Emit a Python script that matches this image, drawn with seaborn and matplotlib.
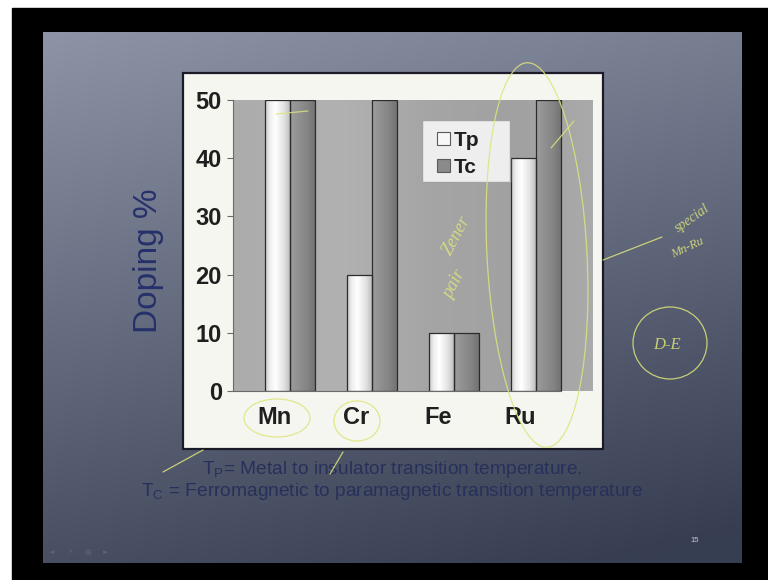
import numpy as np
import pandas as pd
import matplotlib
matplotlib.use("Agg")
import matplotlib.pyplot as plt
import seaborn as sns
from matplotlib.patches import Rectangle, Ellipse, Patch
from matplotlib.colors import LinearSegmentedColormap, to_rgb

# ---- data -------------------------------------------------------------
elements = ["Mn", "Cr", "Fe", "Ru"]
tp_values = [50, 20, 10, 40]
tc_values = [50, 50, 10, 50]
series_names = ["Tp", "Tc"]
y_ticks = [0, 10, 20, 30, 40, 50]
y_label = "Doping %"
note_p = r"$\mathregular{T_P}$= Metal to insulator transition temperature."
note_c = r"$\mathregular{T_C}$ = Ferromagnetic to paramagnetic transition temperature"
slide_number = "15"

sns.set_theme(style="white")
plt.rcParams["font.family"] = ["Liberation Sans", "DejaVu Sans"]

W, H = 768, 580
fig = plt.figure(figsize=(W / 100, H / 100), dpi=100, facecolor="white")


def px_rect(x0, y0, x1, y1):
    return [x0 / W, 1 - y1 / H, (x1 - x0) / W, (y1 - y0) / H]


# ---- slide background -------------------------------------------------
bg = fig.add_axes([0, 0, 1, 1], zorder=0)
bg.add_patch(Rectangle((12, 8), W, H, color="black", zorder=0))
yy, xx = np.mgrid[0:1:200j, 0:1:200j]
t = np.clip(0.8 * yy + 0.25 * xx, 0, 1)
c_top = np.array(to_rgb("#8e94a6"))
c_bot = np.array(to_rgb("#373e52"))
slide = c_top[None, None, :] * (1 - t[..., None]) + c_bot[None, None, :] * t[..., None]
bg.imshow(slide, extent=(43, 742, 563, 32), aspect="auto", zorder=1,
          interpolation="bilinear")
bg.add_patch(Rectangle((183, 73), 420, 376, facecolor="#f6f6f1",
                       edgecolor="#1a1b26", lw=1.6, zorder=2))
bg.set_xlim(0, W)
bg.set_ylim(H, 0)
bg.axis("off")

bg.text(148, 261, y_label, rotation=90, ha="center", va="center",
        fontsize=24, color="#26306a", zorder=3)
bg.text(392, 469, note_p, ha="center", va="center", fontsize=13.8,
        color="#27305a", zorder=3)
bg.text(392, 492, note_c, ha="center", va="center", fontsize=13.8,
        color="#27305a", zorder=3)
bg.text(695, 540, slide_number, ha="center", va="center", fontsize=5.5,
        color="#c6cad3", zorder=3)
for x, g in zip([52, 70, 88, 106], ["◄", "↗", "▤", "►"]):
    bg.text(x, 552, g, ha="center", va="center", fontsize=5,
            color="#5d6476", family="DejaVu Sans", zorder=3)

# ---- bar chart ----------------------------------------------------------
ax = fig.add_axes(px_rect(233, 100, 593, 391), zorder=2)
df = pd.DataFrame({
    "element": elements * 2,
    "series": [series_names[0]] * len(elements) + [series_names[1]] * len(elements),
    "value": tp_values + tc_values,
})
sns.barplot(data=df, x="element", y="value", hue="series", order=elements,
            hue_order=series_names, palette=["#f4f4f4", "#8a8a8a"],
            width=0.61, edgecolor="#2c2c2c", linewidth=0.9, legend=False,
            ax=ax)

xlim = (-0.695, 3.695)
ylim = (0, 50)

# back wall shading
wall = LinearSegmentedColormap.from_list(
    "wall", [(0, "#acacac"), (0.3, "#b1b1b1"), (0.55, "#a5a5a5"),
             (0.8, "#a1a1a1"), (1, "#aaaaaa")])
ax.imshow(np.linspace(0, 1, 256)[None, :], cmap=wall, aspect="auto",
          extent=(xlim[0], xlim[1], ylim[0], ylim[1]), zorder=0)

# cylinder-like shading across each column
light = LinearSegmentedColormap.from_list(
    "light", [(0, "#c6c6c6"), (0.18, "#efefef"), (0.4, "#ffffff"),
              (0.72, "#e4e4e4"), (1, "#bababa")])
dark = LinearSegmentedColormap.from_list(
    "dark", [(0, "#9e9e9e"), (0.25, "#939393"), (0.65, "#858585"),
             (1, "#717171")])
ramp = np.linspace(0, 1, 128)[None, :]
for p in list(ax.patches):
    lum = np.mean(p.get_facecolor()[:3])
    cmap = light if lum > 0.7 else dark
    x0, w, h = p.get_x(), p.get_width(), p.get_height()
    im = ax.imshow(ramp, cmap=cmap, aspect="auto",
                   extent=(x0, x0 + w, 0, h), zorder=p.get_zorder() - 0.05)
    im.set_clip_path(p)
    p.set_facecolor("none")

ax.set_xlim(*xlim)
ax.set_ylim(*ylim)
ax.set_aspect("auto")
ax.set_xlabel("")
ax.set_ylabel("")

# category labels sit between the floor tick marks
cat_idx = np.arange(len(elements))
ax.set_xticks(cat_idx - 0.19, elements)
ax.set_xticks(np.arange(len(elements) + 1) - 0.69, minor=True)
ax.tick_params(axis="x", which="major", length=0, pad=11, labelsize=17,
               labelcolor="#1f1f1f")
ax.tick_params(axis="x", which="minor", length=4, width=0.8,
               color="#6a6a6a", direction="out")
ax.set_yticks(y_ticks)
ax.tick_params(axis="y", length=4, width=0.8, color="#6a6a6a", pad=4,
               labelsize=17, labelcolor="#1f1f1f", left=True)
for lbl in ax.get_xticklabels() + ax.get_yticklabels():
    lbl.set_fontweight("bold")

for side in ("top", "right"):
    ax.spines[side].set_visible(False)
ax.spines["left"].set_color("#6a6a6a")
ax.spines["left"].set_linewidth(0.8)
ax.spines["bottom"].set_color("#6a6a6a")
ax.spines["bottom"].set_linewidth(0.8)
ax.spines["bottom"].set_bounds(-0.69, len(elements) - 0.69)

# legend: frame box drawn separately so its padding can be wider than tall
ax.add_patch(Rectangle((422 / W, 1 - 182 / H), 88 / W, 62 / H,
                       transform=fig.transFigure, facecolor="#eeeeee",
                       edgecolor="#a2a2a2", lw=1.0, zorder=4, clip_on=False))
handles = [Patch(facecolor="#f7f7f7", edgecolor="#5a5a5a", lw=0.8),
           Patch(facecolor="#8a8a8a", edgecolor="#5a5a5a", lw=0.8)]
leg = ax.legend(handles, series_names, loc="center left",
                bbox_to_anchor=(437 / W, 1 - 154 / H),
                bbox_transform=fig.transFigure, borderaxespad=0,
                frameon=False, prop={"weight": "bold", "size": 15},
                handlelength=0.6, handleheight=0.6, handletextpad=0.2,
                labelspacing=0.4, borderpad=0)
leg.set_zorder(5)
for txt in leg.get_texts():
    txt.set_color("#1f1f1f")

# ---- pen annotations over the slide -----------------------------------
ov = fig.add_axes([0, 0, 1, 1], zorder=5)
ov.set_xlim(0, W)
ov.set_ylim(H, 0)
ov.axis("off")
ov.patch.set_alpha(0)
pen = dict(color="#dde47a", lw=0.9, alpha=0.85)
ov.add_patch(Ellipse((277, 418), 66, 38, fill=False, **pen))
ov.add_patch(Ellipse((357, 421), 46, 40, fill=False, **pen))
ov.add_patch(Ellipse((537, 255), 100, 385, angle=-3, fill=False, **pen))
ov.add_patch(Ellipse((670, 343), 74, 72, fill=False, **pen))
for (x0, y0), (x1, y1) in [((203, 450), (163, 472)), ((343, 452), (330, 474)),
                           ((603, 260), (662, 237)), ((276, 114), (308, 111)),
                           ((551, 148), (574, 121))]:
    ov.plot([x0, x1], [y0, y1], **pen)
hand = dict(color="#dde47a", alpha=0.85, style="italic",
            family="Liberation Serif", ha="center", va="center")
ov.text(457, 235, "Zener", rotation=62, fontsize=13, **hand)
ov.text(455, 285, "pair", rotation=62, fontsize=13, **hand)
ov.text(692, 218, "special", rotation=35, fontsize=10, **hand)
ov.text(688, 248, "Mn-Ru", rotation=25, fontsize=9, **hand)
ov.text(667, 345, "D-E", fontsize=12, **hand)

fig.savefig("out.png", dpi=100, facecolor=fig.get_facecolor())
